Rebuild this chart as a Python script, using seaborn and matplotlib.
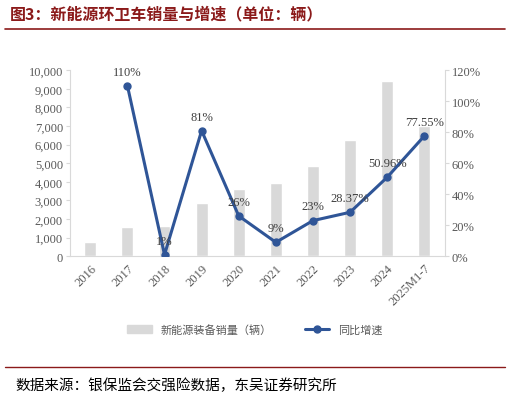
import matplotlib
matplotlib.use("Agg")
import matplotlib.pyplot as plt
import seaborn as sns
import pandas as pd
import numpy as np

categories = ["2016","2017","2018","2019","2020","2021","2022","2023","2024","2025M1-7"]
sales = [750, 1580, 1600, 2880, 3630, 3950, 4850, 6230, 9430, 7000]
growth = [None, 110, 1, 81, 26, 9, 23, 28.37, 50.96, 77.55]
growth_labels = ["", "110%", "1%", "81%", "26%", "9%", "23%", "28.37%", "50.96%", "77.55%"]

sns.set_style("white")
plt.rcParams['font.family'] = ['Liberation Serif', 'Noto Sans CJK SC', 'DejaVu Sans']

fig = plt.figure(figsize=(5.10, 4.02), dpi=100)
ax = fig.add_axes([0.137, 0.36, 0.735, 0.463])
df = pd.DataFrame({"cat": categories, "sales": sales})
sns.barplot(data=df, x="cat", y="sales", color="#d9d9d9", width=0.32, ax=ax, saturation=1)
ax.set_ylim(0, 10000)
ax.set_yticks(np.arange(0, 10001, 1000))
ax.set_yticklabels([f"{v:,}" for v in range(0, 10001, 1000)], fontsize=9, color="#595959")
ax.set_xlabel(""); ax.set_ylabel("")
ax.set_xticks(range(len(categories)))
ax.set_xticklabels(categories, rotation=45, ha="right", rotation_mode="anchor", fontsize=9, color="#595959")
for s in ["top", "right"]:
    ax.spines[s].set_visible(False)
for s in ["left", "bottom"]:
    ax.spines[s].set_color("#d9d9d9")
ax.tick_params(axis="y", length=3, color="#d9d9d9", pad=2)
ax.tick_params(axis="x", length=0, pad=4)

ax2 = ax.twinx()
xs = [i for i, g in enumerate(growth) if g is not None]
gs = [g for g in growth if g is not None]
ax2.plot(xs, gs, color="#2f5597", lw=2.2, marker="o", ms=5)
ax2.set_ylim(0, 120)
ax2.set_yticks(range(0, 121, 20))
ax2.set_yticklabels([f"{v}%" for v in range(0, 121, 20)], fontsize=9, color="#595959")
for s in ["top", "left", "bottom"]:
    ax2.spines[s].set_visible(False)
ax2.spines["right"].set_color("#d9d9d9")
ax2.tick_params(axis="y", length=3, color="#d9d9d9", pad=2)
for x, g, lab in zip(range(len(growth)), growth, growth_labels):
    if g is None:
        continue
    ax2.annotate(lab, (x, g), xytext=(0, 8), textcoords="offset points", ha="center",
                 fontsize=9, color="#404040")
ax.set_xlim(-0.55, 9.55)

from matplotlib.patches import Patch
from matplotlib.lines import Line2D
handles = [Patch(color="#d9d9d9", label="新能源装备销量（辆）"),
           Line2D([0], [0], color="#2f5597", lw=2.2, marker="o", ms=5, label="同比增速")]
fig.legend(handles=handles, loc="center", bbox_to_anchor=(0.5, 0.178), ncol=2, frameon=False,
           fontsize=8, handlelength=2.2, columnspacing=3,
           prop={"family": ["Noto Sans CJK SC"], "size": 8})
for t in fig.legends[0].get_texts():
    t.set_color("#595959")

fig.text(0.02, 0.963, "图3：新能源环卫车销量与增速（单位：辆）", fontsize=11.5, fontweight="bold",
         color="#8b1a1a", va="center", family=["Noto Sans CJK SC"])
fig.add_artist(Line2D([0.01, 0.99], [0.925, 0.925], color="#8b1a1a", lw=1.2))
fig.add_artist(Line2D([0.01, 0.99], [0.085, 0.085], color="#8b1a1a", lw=1.0))
fig.text(0.03, 0.04, "数据来源：银保监会交强险数据，东吴证券研究所", fontsize=10.5,
         color="#000000", va="center", family=["Noto Sans CJK SC"])

fig.savefig("out.png", dpi=100)
